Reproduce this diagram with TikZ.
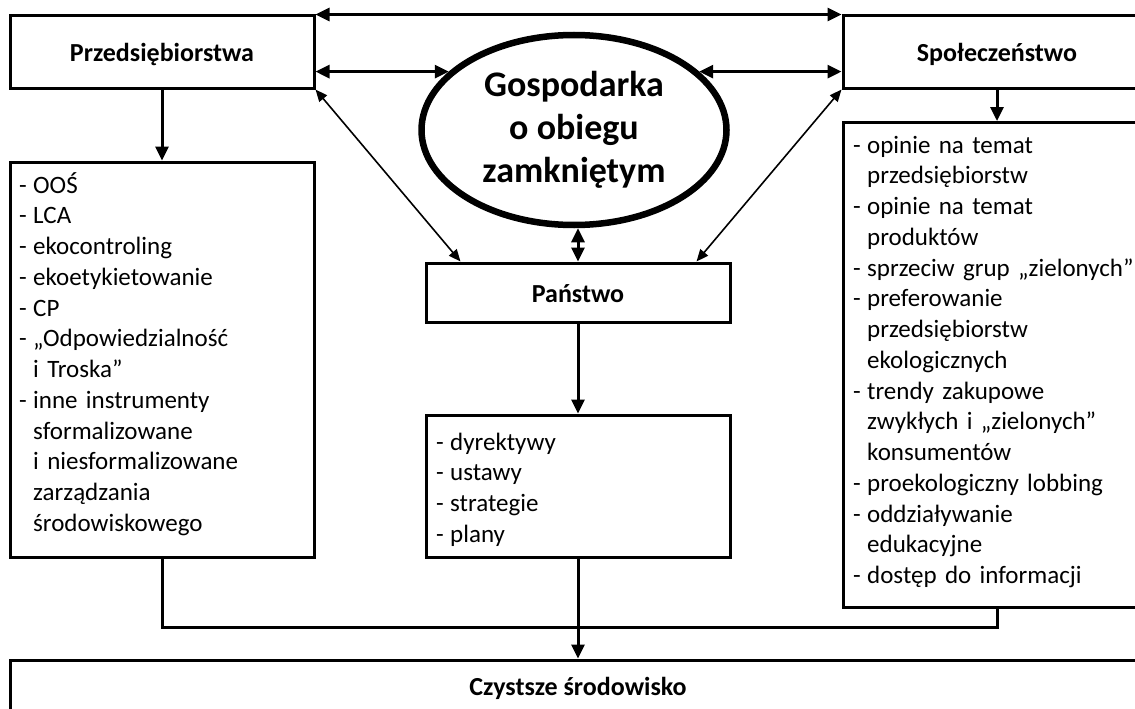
\documentclass[tikz,border=0pt]{standalone}
\usepackage{fontspec}
\setmainfont{Carlito}
\usetikzlibrary{arrows.meta,shapes.geometric,calc}
\newcommand\lidash{\makebox[14pt][l]{-}}
\newcommand\liind{\hspace*{14pt}}
\newcommand\lifont{\fontsize{25}{30.75}\selectfont\spaceskip=4.6pt plus 1pt minus 1pt\relax}
\begin{document}
\begin{tikzpicture}[x=1pt,y=-1pt,
  box/.style={draw,line width=3pt,inner sep=0pt,fill=white},
  title/.style={box,font=\fontsize{26}{31}\selectfont\bfseries,text height=20pt,text depth=0pt},
  lst/.style={inner sep=0pt,text width=#1,align=left,anchor=base west,font=\lifont},
  arr/.style={line width=3pt,-{Triangle[length=14pt,width=13pt]}},
  darr/.style={line width=3pt,{Triangle[length=14pt,width=13pt]}-{Triangle[length=14pt,width=13pt]}},
  thin/.style={line width=1.6pt,{Triangle[length=12pt,width=10pt]}-{Triangle[length=12pt,width=10pt]}},
  ln/.style={line width=3pt}]
\clip (0,0) rectangle (1135,709);
\fill[white] (0,0) rectangle (1135,709);
% boxes
\node[title,minimum width=304pt,minimum height=72pt] (przed) at (162,52) {Przedsiębiorstwa};
\node[title,minimum width=308pt,minimum height=72pt] (spol) at (997,52) {Społeczeństwo};
\node[draw,ellipse,line width=6.5pt,inner sep=0pt,minimum width=305pt,minimum height=190pt,
      font=\fontsize{36}{43}\selectfont\bfseries,align=center] (ell) at (574,130) {Gospodarka\\o obiegu\\zamkniętym};
\node[title,minimum width=304pt,minimum height=59pt] (panstwo) at (578,292.5) {Państwo};
\node[box,minimum width=304pt,minimum height=395pt] (lewa) at (162,359.5) {};
\node[box,minimum width=304pt,minimum height=142pt] (srodek) at (578,486) {};
\node[box,minimum width=308pt,minimum height=485pt] (prawa) at (997,365) {};
\node[title,minimum width=1136pt,minimum height=66pt,text depth=16pt] (czyst) at (578,693) {Czystsze środowisko};
% list texts
\node[lst=290pt] (lt) at (19,193) {\lidash OOŚ\\\lidash LCA\\\lidash ekocontroling\\\lidash ekoetykietowanie\\\lidash CP\\\lidash „Odpowiedzialność\\\liind i Troska”\\\lidash inne instrumenty\\\liind sformalizowane\\\liind i niesformalizowane\\\liind zarządzania\\\liind środowiskowego};
\node[lst=290pt] (mt) at (436,450) {\lidash dyrektywy\\\lidash ustawy\\\lidash strategie\\\lidash plany};
\node[lst=290pt] (rt) at (853,153) {\lidash opinie na temat\\\liind przedsiębiorstw\\\lidash opinie na temat\\\liind produktów\\\lidash sprzeciw grup „zielonych”\\\lidash preferowanie\\\liind przedsiębiorstw\\\liind ekologicznych\\\lidash trendy zakupowe\\\liind zwykłych i „zielonych”\\\liind konsumentów\\\lidash proekologiczny lobbing\\\lidash oddziaływanie\\\liind edukacyjne\\\lidash dostęp do informacji};
% connectors
\draw[darr] (przed.north east) -- (spol.north west);
\draw[darr] (przed.east |- ell.155) -- (ell.155);
\draw[darr] (ell.25) -- (spol.west |- ell.25);
\draw[thin] (przed.south east) -- ([xshift=36pt]panstwo.north west);
\draw[thin] (spol.south west) -- ([xshift=-35pt]panstwo.north east);
\draw[darr] (ell.south -| panstwo.north) -- (panstwo.north);
\draw[arr] (przed.south) -- (lewa.north);
\draw[arr] (spol.south) -- (prawa.north);
\draw[arr] (panstwo.south) -- (srodek.north);
\coordinate (j) at (578,627);
\draw[ln] (lewa.south) |- (j) -| (prawa.south);
\draw[arr] (srodek.south) -- (czyst.north);
\end{tikzpicture}
\end{document}
